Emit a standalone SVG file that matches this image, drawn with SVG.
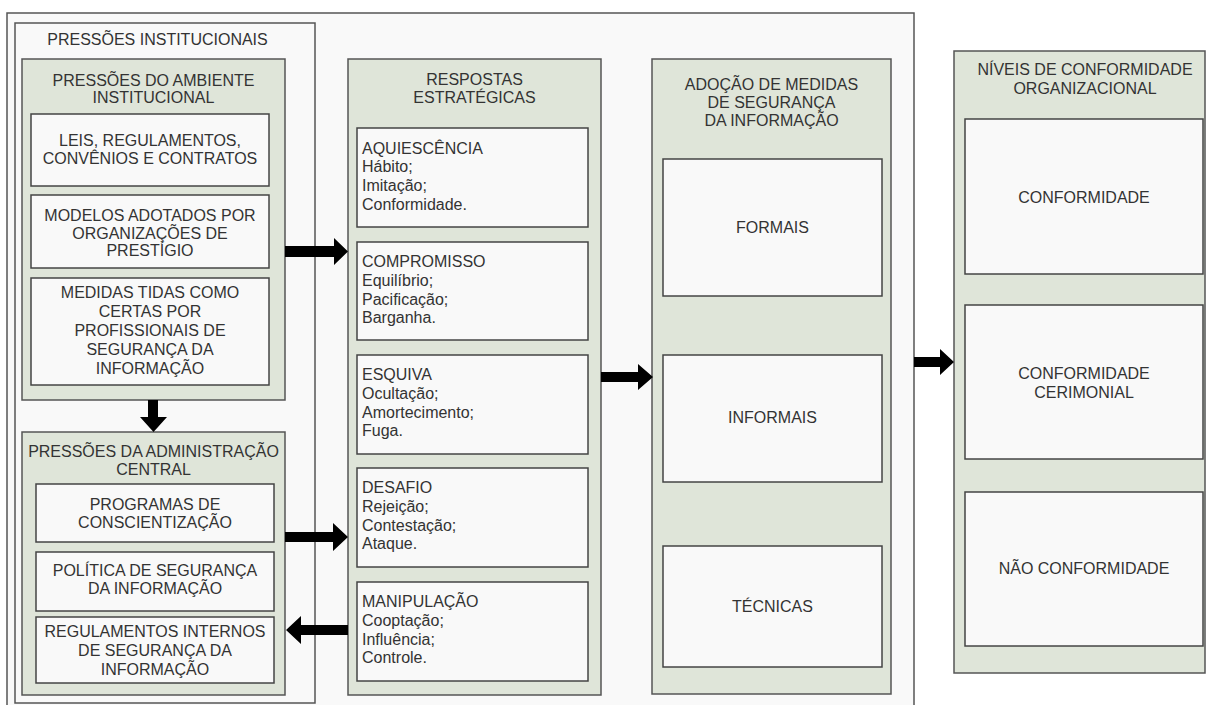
<svg xmlns="http://www.w3.org/2000/svg" width="1206" height="705" viewBox="0 0 1206 705">
<style>
.frame{fill:#f9f9f9;stroke:#555;stroke-width:1.5}
.grp{fill:#dfe5d9;stroke:#555;stroke-width:1.5}
.box{fill:#f9f9f9;stroke:#444;stroke-width:1.5}
text{font-family:"Liberation Sans",Arial,sans-serif;font-size:16px;fill:#333}
.c{text-anchor:middle}
.arrow{fill:#000}
</style>
<rect x="0" y="0" width="1206" height="705" fill="#fff"/>
<g id="outer-frame"><rect class="frame" x="7" y="13" width="907" height="710"/></g>
<g id="pressoes-institucionais">
<rect class="frame" x="15" y="23" width="300" height="680"/>
<text class="c" x="157.5" y="45">PRESSÕES INSTITUCIONAIS</text>
</g>
<g id="ambiente-institucional">
<rect class="grp" x="22" y="59" width="263" height="341"/>
<text class="c" x="153.5" y="86">PRESSÕES DO AMBIENTE</text>
<text class="c" x="153.5" y="103">INSTITUCIONAL</text>
</g>
<g id="leis">
<rect class="box" x="31" y="114" width="238" height="72"/>
<text class="c" x="150" y="146">LEIS, REGULAMENTOS,</text>
<text class="c" x="150" y="164">CONVÊNIOS E CONTRATOS</text>
</g>
<g id="modelos">
<rect class="box" x="31" y="195" width="238" height="73"/>
<text class="c" x="150" y="221">MODELOS ADOTADOS POR</text>
<text class="c" x="150" y="238.5">ORGANIZAÇÕES DE</text>
<text class="c" x="150" y="256">PRESTÍGIO</text>
</g>
<g id="medidas">
<rect class="box" x="31" y="278" width="238" height="107"/>
<text class="c" x="150" y="298">MEDIDAS TIDAS COMO</text>
<text class="c" x="150" y="317">CERTAS POR</text>
<text class="c" x="150" y="336">PROFISSIONAIS DE</text>
<text class="c" x="150" y="355">SEGURANÇA DA</text>
<text class="c" x="150" y="374">INFORMAÇÃO</text>
</g>
<g id="administracao-central">
<rect class="grp" x="22" y="432" width="263" height="263"/>
<text class="c" x="153.5" y="457">PRESSÕES DA ADMINISTRAÇÃO</text>
<text class="c" x="153.5" y="475">CENTRAL</text>
</g>
<g id="programas">
<rect class="box" x="36" y="484" width="238" height="58"/>
<text class="c" x="155" y="510">PROGRAMAS DE</text>
<text class="c" x="155" y="528">CONSCIENTIZAÇÃO</text>
</g>
<g id="politica">
<rect class="box" x="36" y="552" width="238" height="59"/>
<text class="c" x="155" y="576">POLÍTICA DE SEGURANÇA</text>
<text class="c" x="155" y="594">DA INFORMAÇÃO</text>
</g>
<g id="regulamentos">
<rect class="box" x="36" y="617" width="238" height="66"/>
<text class="c" x="155" y="637">REGULAMENTOS INTERNOS</text>
<text class="c" x="155" y="656">DE SEGURANÇA DA</text>
<text class="c" x="155" y="675">INFORMAÇÃO</text>
</g>
<g id="respostas">
<rect class="grp" x="348" y="59" width="253" height="636"/>
<text class="c" x="474.5" y="85">RESPOSTAS</text>
<text class="c" x="474.5" y="103">ESTRATÉGICAS</text>
</g>
<g id="aquiescencia">
<rect class="box" x="357" y="128" width="231" height="99"/>
<text x="362" y="153.5">AQUIESCÊNCIA</text>
<text x="362" y="172.3">Hábito;</text>
<text x="362" y="191.1">Imitação;</text>
<text x="362" y="209.9">Conformidade.</text>
</g>
<g id="compromisso">
<rect class="box" x="357" y="242" width="231" height="98"/>
<text x="362" y="267">COMPROMISSO</text>
<text x="362" y="285.8">Equilíbrio;</text>
<text x="362" y="304.6">Pacificação;</text>
<text x="362" y="323.4">Barganha.</text>
</g>
<g id="esquiva">
<rect class="box" x="357" y="355" width="231" height="99"/>
<text x="362" y="380">ESQUIVA</text>
<text x="362" y="398.8">Ocultação;</text>
<text x="362" y="417.6">Amortecimento;</text>
<text x="362" y="436.4">Fuga.</text>
</g>
<g id="desafio">
<rect class="box" x="357" y="468" width="231" height="99"/>
<text x="362" y="493">DESAFIO</text>
<text x="362" y="511.8">Rejeição;</text>
<text x="362" y="530.6">Contestação;</text>
<text x="362" y="549.4">Ataque.</text>
</g>
<g id="manipulacao">
<rect class="box" x="357" y="582" width="231" height="99"/>
<text x="362" y="607">MANIPULAÇÃO</text>
<text x="362" y="625.8">Cooptação;</text>
<text x="362" y="644.6">Influência;</text>
<text x="362" y="663.4">Controle.</text>
</g>
<g id="adocao">
<rect class="grp" x="652" y="59" width="239" height="635"/>
<text class="c" x="771.5" y="90">ADOÇÃO DE MEDIDAS</text>
<text class="c" x="771.5" y="108">DE SEGURANÇA</text>
<text class="c" x="771.5" y="126">DA INFORMAÇÃO</text>
</g>
<g id="formais">
<rect class="box" x="663" y="159" width="219" height="137"/>
<text class="c" x="772.5" y="233">FORMAIS</text>
</g>
<g id="informais">
<rect class="box" x="663" y="355" width="219" height="127"/>
<text class="c" x="772.5" y="423">INFORMAIS</text>
</g>
<g id="tecnicas">
<rect class="box" x="663" y="546" width="219" height="121"/>
<text class="c" x="772.5" y="612">TÉCNICAS</text>
</g>
<g id="niveis">
<rect class="grp" x="954" y="51" width="251" height="622"/>
<text class="c" x="1085" y="75">NÍVEIS DE CONFORMIDADE</text>
<text class="c" x="1085" y="94">ORGANIZACIONAL</text>
</g>
<g id="conformidade">
<rect class="box" x="965" y="119" width="238" height="155"/>
<text class="c" x="1084" y="203">CONFORMIDADE</text>
</g>
<g id="conformidade-cerimonial">
<rect class="box" x="965" y="305" width="238" height="154"/>
<text class="c" x="1084" y="379">CONFORMIDADE</text>
<text class="c" x="1084" y="398">CERIMONIAL</text>
</g>
<g id="nao-conformidade">
<rect class="box" x="965" y="492" width="238" height="154"/>
<text class="c" x="1084" y="574">NÃO CONFORMIDADE</text>
</g>
<g id="connectors">
<polygon class="arrow" points="285,246 334,246 334,238 348,251.5 334,265 334,257 285,257"/>
<polygon class="arrow" points="285,532 333,532 333,523 348,537 333,551 333,542 285,542"/>
<polygon class="arrow" points="348,625 301,625 301,616 286,630 301,644 301,635 348,635"/>
<polygon class="arrow" points="148,400 158,400 158,417 167,417 153.5,432 140,417 148,417"/>
<polygon class="arrow" points="601,372 638,372 638,364 653,377 638,390 638,382 601,382"/>
<polygon class="arrow" points="914,357 940,357 940,349 954,362 940,375 940,367 914,367"/>
</g>
</svg>
